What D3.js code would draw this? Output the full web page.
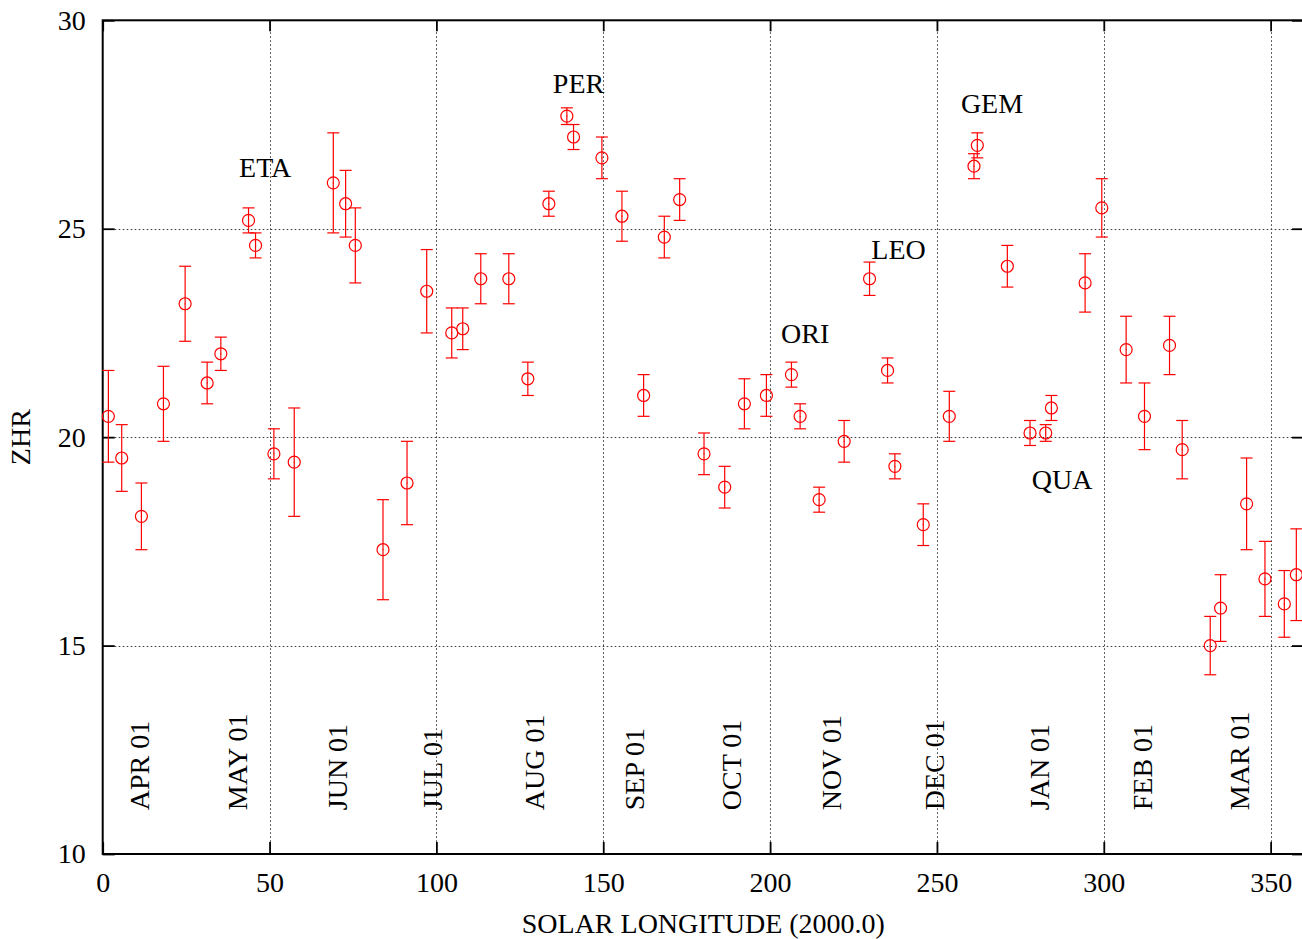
<!DOCTYPE html>
<html>
<head>
<meta charset="utf-8">
<script src="https://cdn.jsdelivr.net/npm/d3@7"></script>
<style>
  html, body { margin: 0; padding: 0; background: #fff; }
  svg { display: block; }
</style>
</head>
<body>
<svg id="chart" width="1302" height="939"></svg>
<script>
// ---------- data ----------
const solarLon = [1.7, 5.7, 11.6, 18.2, 24.7, 31.3, 35.4, 43.7, 45.8, 51.3,
  57.4, 69.1, 72.8, 75.7, 84.0, 91.2, 97.1, 104.6, 107.9, 113.3,
  121.7, 127.4, 133.7, 139.1, 141.1, 149.6, 155.6, 162.1, 168.3, 172.9,
  180.2, 186.4, 192.3, 198.9, 206.4, 209.0, 214.7, 222.2, 229.8, 235.2,
  237.4, 245.9, 253.7, 261.1, 262.1, 271.1, 277.9, 282.6, 284.3, 294.4,
  299.4, 306.7, 312.2, 319.7, 323.5, 331.9, 335.0, 342.8, 348.3, 354.1, 357.7];
const zhr = [20.5, 19.5, 18.1, 20.8, 23.2, 21.3, 22.0, 25.2, 24.6, 19.6,
  19.4, 26.1, 25.6, 24.6, 17.3, 18.9, 23.5, 22.5, 22.6, 23.8,
  23.8, 21.4, 25.6, 27.7, 27.2, 26.7, 25.3, 21.0, 24.8, 25.7,
  19.6, 18.8, 20.8, 21.0, 21.5, 20.5, 18.5, 19.9, 23.8, 21.6,
  19.3, 17.9, 20.5, 26.5, 27.0, 24.1, 20.1, 20.1, 20.7, 23.7,
  25.5, 22.1, 20.5, 22.2, 19.7, 15.0, 15.9, 18.4, 16.6, 16.0, 16.7];
const zhrLow = [19.4, 18.7, 17.3, 19.9, 22.3, 20.8, 21.6, 24.9, 24.3, 19.0,
  18.1, 24.9, 24.8, 23.7, 16.1, 17.9, 22.5, 21.9, 22.1, 23.2,
  23.2, 21.0, 25.3, 27.5, 26.9, 26.2, 24.7, 20.5, 24.3, 25.2,
  19.1, 18.3, 20.2, 20.5, 21.2, 20.2, 18.2, 19.4, 23.4, 21.3,
  19.0, 17.4, 19.9, 26.2, 26.7, 23.6, 19.8, 19.9, 20.4, 23.0,
  24.8, 21.3, 19.7, 21.5, 19.0, 14.3, 15.1, 17.3, 15.7, 15.2, 15.6];
const zhrHigh = [21.6, 20.3, 18.9, 21.7, 24.1, 21.8, 22.4, 25.5, 24.9, 20.2,
  20.7, 27.3, 26.4, 25.5, 18.5, 19.9, 24.5, 23.1, 23.1, 24.4,
  24.4, 21.8, 25.9, 27.9, 27.5, 27.2, 25.9, 21.5, 25.3, 26.2,
  20.1, 19.3, 21.4, 21.5, 21.8, 20.8, 18.8, 20.4, 24.2, 21.9,
  19.6, 18.4, 21.1, 26.8, 27.3, 24.6, 20.4, 20.3, 21.0, 24.4,
  26.2, 22.9, 21.3, 22.9, 20.4, 15.7, 16.7, 19.5, 17.5, 16.8, 17.8];

const monthNames = ["APR 01", "MAY 01", "JUN 01", "JUL 01", "AUG 01", "SEP 01",
  "OCT 01", "NOV 01", "DEC 01", "JAN 01", "FEB 01", "MAR 01"];
const monthLon = [11.1, 40.4, 70.3, 98.8, 129.3, 159.3, 188.5, 218.5, 249.3, 280.8, 311.5, 340.8];
const monthLabelZhr = 11.05;

const showerNames = ["ETA", "PER", "ORI", "LEO", "GEM", "QUA"];
const showerLon = [48.7, 142.6, 210.5, 238.5, 266.5, 287.5];
const showerZhr = [26.24, 28.25, 22.27, 24.28, 27.77, 18.75];

const xTickVals = [0, 50, 100, 150, 200, 250, 300, 350];
const xTickLabels = ["0", "50", "100", "150", "200", "250", "300", "350"];
const yTickVals = [10, 15, 20, 25, 30];
const yTickLabels = ["10", "15", "20", "25", "30"];
const xGridVals = [50, 100, 150, 200, 250, 300, 350];
const yGridVals = [15, 20, 25];

const xTitle = "SOLAR LONGITUDE (2000.0)";
const yTitle = "ZHR";

// ---------- layout ----------
const FONT = "'Liberation Serif', 'Times New Roman', serif";
const FS = 28;
const pLeft = 102.7, pRight = 1304, pTop = 20.3, pBottom = 854;
const x = d3.scaleLinear().domain([0, 360]).range([pLeft, pRight]);
const y = d3.scaleLinear().domain([10, 30]).range([pBottom, pTop]);
const RED = "#ff0000";

const svg = d3.select("#chart");

// grid
const grid = svg.append("g").attr("stroke", "#3a3a3a").attr("stroke-width", 1)
  .attr("stroke-dasharray", "1.6,2.4").attr("fill", "none");
grid.selectAll("line.gx").data(xGridVals).enter().append("line")
  .attr("x1", d => Math.round(x(d)) + 0.5).attr("x2", d => Math.round(x(d)) + 0.5)
  .attr("y1", pTop).attr("y2", pBottom);
grid.selectAll("line.gy").data(yGridVals).enter().append("line")
  .attr("y1", d => Math.round(y(d)) + 0.5).attr("y2", d => Math.round(y(d)) + 0.5)
  .attr("x1", pLeft).attr("x2", pRight);

// axes
function styleAxis(g) {
  g.select(".domain").remove();
  g.selectAll(".tick line").attr("stroke", "#000").attr("stroke-width", 1.8);
  g.selectAll("text").attr("font-family", FONT).attr("font-size", FS).attr("fill", "#000");
}
svg.append("g").attr("transform", `translate(0,${pBottom})`)
  .call(d3.axisBottom(x).tickValues(xTickVals).tickSize(-12).tickPadding(18)
    .tickFormat((d, i) => xTickLabels[i]))
  .call(styleAxis);
svg.append("g").attr("transform", `translate(${pLeft},0)`)
  .call(d3.axisLeft(y).tickValues(yTickVals).tickSize(-12).tickPadding(17)
    .tickFormat((d, i) => yTickLabels[i]))
  .call(styleAxis);
svg.append("g").attr("transform", `translate(0,${pTop})`)
  .call(d3.axisTop(x).tickValues(xTickVals).tickSize(-11).tickFormat(""))
  .call(styleAxis);
svg.append("g").attr("transform", `translate(${pRight},0)`)
  .call(d3.axisRight(y).tickValues(yTickVals).tickSize(-12).tickFormat(""))
  .call(styleAxis);

// border
svg.append("rect").attr("x", pLeft).attr("y", pTop)
  .attr("width", pRight - pLeft).attr("height", pBottom - pTop)
  .attr("fill", "none").attr("stroke", "#000").attr("stroke-width", 2);

// month labels
svg.append("g").selectAll("text").data(monthNames).enter().append("text")
  .attr("transform", (d, i) => `translate(${x(monthLon[i])},${y(monthLabelZhr)}) rotate(-90)`)
  .attr("dominant-baseline", "central")
  .attr("text-anchor", "start")
  .attr("font-family", FONT).attr("font-size", FS).attr("fill", "#000")
  .text(d => d);

// shower labels
svg.append("g").selectAll("text").data(showerNames).enter().append("text")
  .attr("x", (d, i) => x(showerLon[i]))
  .attr("y", (d, i) => y(showerZhr[i]))
  .attr("text-anchor", "middle")
  .attr("font-family", FONT).attr("font-size", FS).attr("fill", "#000")
  .text(d => d);

// data points with error bars
const pts = solarLon.map((l, i) => ({ l, v: zhr[i], lo: zhrLow[i], hi: zhrHigh[i] }));
const pg = svg.append("g").attr("stroke", RED).attr("stroke-width", 1.2).attr("fill", "none");
const capW = 6;
const p = pg.selectAll("g").data(pts).enter().append("g");
p.append("line").attr("x1", d => x(d.l)).attr("x2", d => x(d.l))
  .attr("y1", d => y(d.lo)).attr("y2", d => y(d.hi));
p.append("line").attr("x1", d => x(d.l) - capW).attr("x2", d => x(d.l) + capW)
  .attr("y1", d => y(d.lo)).attr("y2", d => y(d.lo));
p.append("line").attr("x1", d => x(d.l) - capW).attr("x2", d => x(d.l) + capW)
  .attr("y1", d => y(d.hi)).attr("y2", d => y(d.hi));
p.append("circle").attr("cx", d => x(d.l)).attr("cy", d => y(d.v)).attr("r", 6)
  .attr("fill", "none");
p.append("circle").attr("cx", d => x(d.l)).attr("cy", d => y(d.v)).attr("r", 0.6)
  .attr("fill", RED).attr("stroke", "none");

// axis titles
svg.append("text").attr("x", (pLeft + pRight) / 2).attr("y", 933)
  .attr("text-anchor", "middle")
  .attr("font-family", FONT).attr("font-size", FS).attr("fill", "#000")
  .text(xTitle);
svg.append("text").attr("transform", `translate(30,${(pTop + pBottom) / 2}) rotate(-90)`)
  .attr("text-anchor", "middle")
  .attr("font-family", FONT).attr("font-size", FS).attr("fill", "#000")
  .text(yTitle);
</script>
</body>
</html>
